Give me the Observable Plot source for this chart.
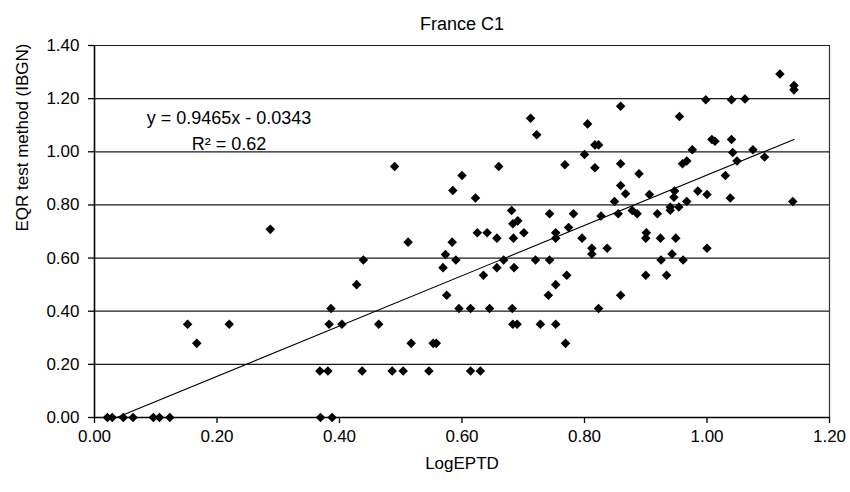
<!DOCTYPE html>
<html>
<head>
<meta charset="utf-8">
<script src="https://cdn.jsdelivr.net/npm/d3@7"></script>
<script src="https://cdn.jsdelivr.net/npm/@observablehq/plot@0.6"></script>
<style>
  html, body { margin: 0; padding: 0; background: #fff; }
  #chart svg { display: block; }
</style>
</head>
<body>
<div id="chart"></div>
<script>
// LogEPTD (x) and EQR from the IBGN test method (y), one entry per site
const logEPTD = [
  0.021, 0.029, 0.047, 0.063, 0.096, 0.106, 0.123, 0.369, 0.388,
  0.368, 0.381, 0.437, 0.486, 0.504, 0.546, 0.614, 0.630,
  0.167, 0.517, 0.553, 0.558, 0.769,
  0.152, 0.220, 0.383, 0.404, 0.464, 0.683, 0.690, 0.728, 0.753,
  0.386, 0.595, 0.614, 0.645, 0.682, 0.823,
  0.575, 0.741, 0.859,
  0.428, 0.753,
  0.635, 0.771, 0.900, 0.934,
  0.569, 0.657, 0.685,
  0.439, 0.590, 0.668, 0.720, 0.743, 0.925, 0.961,
  0.573, 0.812, 0.943,
  0.812, 0.837, 1.000,
  0.512, 0.584,
  0.657, 0.684, 0.753, 0.796, 0.900, 0.924, 0.949,
  0.625, 0.641, 0.701, 0.753, 0.901,
  0.287, 0.774, 0.683, 0.691,
  0.743, 0.782, 0.855, 0.886, 0.919, 0.827,
  0.681, 0.878, 0.940, 0.940, 0.954,
  0.849, 0.967, 1.140, 0.622, 1.038, 0.946,
  0.867, 0.906, 1.000, 0.947, 0.985, 0.585,
  0.859, 0.600, 1.030, 0.889,
  0.817, 0.490, 0.660, 0.768, 0.859, 0.960, 0.967, 1.049,
  1.094, 0.800, 1.042, 0.976, 1.075,
  0.817, 0.823, 1.008, 1.013, 1.040,
  0.722, 0.805, 0.712, 0.955, 0.859,
  0.998, 1.040, 1.062, 1.142, 1.142, 1.119
];
const eqrIBGN = [
  0, 0, 0, 0, 0, 0, 0, 0, 0,
  0.175, 0.175, 0.175, 0.175, 0.175, 0.175, 0.175, 0.175,
  0.279, 0.279, 0.279, 0.279, 0.279,
  0.351, 0.351, 0.351, 0.351, 0.351, 0.351, 0.351, 0.351, 0.351,
  0.410, 0.410, 0.410, 0.410, 0.410, 0.410,
  0.460, 0.460, 0.460,
  0.500, 0.500,
  0.535, 0.535, 0.535, 0.535,
  0.564, 0.564, 0.564,
  0.593, 0.593, 0.593, 0.593, 0.593, 0.593, 0.593,
  0.613, 0.615, 0.615,
  0.637, 0.637, 0.637,
  0.660, 0.660,
  0.675, 0.675, 0.675, 0.675, 0.675, 0.675, 0.675,
  0.695, 0.695, 0.695, 0.695, 0.695,
  0.708, 0.715, 0.729, 0.740,
  0.767, 0.767, 0.767, 0.767, 0.767, 0.758,
  0.779, 0.779, 0.780, 0.792, 0.792,
  0.813, 0.813, 0.813, 0.826, 0.826, 0.829,
  0.842, 0.839, 0.839, 0.852, 0.852, 0.854,
  0.873, 0.911, 0.911, 0.917,
  0.940, 0.945, 0.945, 0.951, 0.955, 0.955, 0.965, 0.965,
  0.980, 0.990, 0.997, 1.008, 1.008,
  1.026, 1.026, 1.046, 1.040, 1.046,
  1.064, 1.105, 1.126, 1.133, 1.171,
  1.196, 1.196, 1.199, 1.249, 1.233, 1.293
];

// Linear trend fitted to the sites
const slope = 0.9465;
const intercept = -0.0343;
const rSquared = 0.62;

const xTicks = [0, 0.2, 0.4, 0.6, 0.8, 1.0, 1.2];
const yTicks = [0, 0.2, 0.4, 0.6, 0.8, 1.0, 1.2, 1.4];

const title = "France C1";
const xLabel = "LogEPTD";
const yLabel = "EQR test method (IBGN)";

const sites = logEPTD.map((x, i) => ({x, y: eqrIBGN[i]}));
const [xMin, xMax] = d3.extent(logEPTD);
const trend = [xMin, xMax].map(x => ({x, y: slope * x + intercept}));

const fmt = d3.format(".2f");
const eqText = `y = ${slope}x - ${Math.abs(intercept)}`;
const r2Text = `R\u00b2 = ${rSquared.toFixed(2)}`;

const font = "'Liberation Sans', Arial, sans-serif";

const chart = Plot.plot({
  width: 850,
  height: 492,
  marginTop: 45,
  marginRight: 21,
  marginBottom: 75,
  marginLeft: 94,
  style: {fontFamily: font, fontSize: "17px", color: "#000", background: "#fff", overflow: "visible"},
  x: {domain: [0, 1.2], ticks: xTicks, label: null},
  y: {domain: [0, 1.4], ticks: yTicks, label: null},
  marks: [
    Plot.gridY(yTicks, {stroke: "#000", strokeOpacity: 0.9, strokeWidth: 1.2}),
    Plot.ruleX([1.2], {stroke: "#000", strokeOpacity: 0.8, strokeWidth: 1.2}),
    Plot.line(trend, {x: "x", y: "y", stroke: "#000", strokeWidth: 1.1, clip: true}),
    Plot.dot(sites, {x: "x", y: "y", symbol: "diamond2", r: 4.3, fill: "#000", stroke: "none"}),
    Plot.ruleX([0], {stroke: "#000", strokeWidth: 1.6}),
    Plot.ruleY([0], {stroke: "#000", strokeWidth: 1.6}),
    Plot.axisX(xTicks, {tickFormat: fmt, tickSize: 6, tickPadding: 6, fontSize: 17, stroke: "#000", strokeWidth: 1.3, label: null}),
    Plot.axisY(yTicks, {tickFormat: fmt, tickSize: 6, tickPadding: 9, fontSize: 17, stroke: "#000", strokeWidth: 1.3, label: null}),
    Plot.text([title], {frameAnchor: "top", dy: -28, fontSize: 18, fill: "#000"}),
    Plot.text([xLabel], {frameAnchor: "bottom", dy: 51, fontSize: 17, fill: "#000"}),
    Plot.text([yLabel], {frameAnchor: "left", dx: -72, rotate: -90, fontSize: 17, fill: "#000"}),
    Plot.text([eqText], {frameAnchor: "top-left", dx: 134.5, dy: 66, textAnchor: "middle", fontSize: 18, fill: "#000"}),
    Plot.text([r2Text], {frameAnchor: "top-left", dx: 134.5, dy: 92, textAnchor: "middle", fontSize: 18, fill: "#000"})
  ]
});

document.getElementById("chart").appendChild(chart);
</script>
</body>
</html>
